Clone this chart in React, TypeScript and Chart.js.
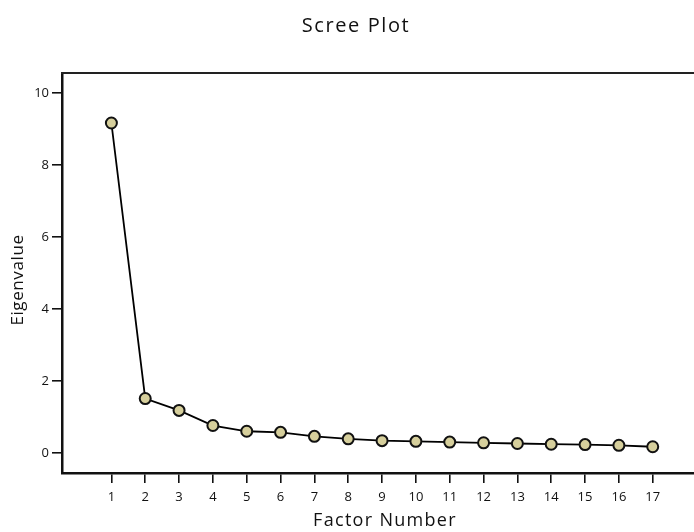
import React, { useEffect, useRef } from "react";
import { Chart, registerables } from "chart.js";

Chart.register(...registerables);

const factors = [1, 2, 3, 4, 5, 6, 7, 8, 9, 10, 11, 12, 13, 14, 15, 16, 17];
const eigenvalues = [9.17, 1.51, 1.18, 0.76, 0.6, 0.57, 0.46, 0.39, 0.34, 0.32, 0.3, 0.28, 0.26, 0.24, 0.23, 0.21, 0.17];
const xTickValues = [1, 2, 3, 4, 5, 6, 7, 8, 9, 10, 11, 12, 13, 14, 15, 16, 17];
const yTickValues = [0, 2, 4, 6, 8, 10];
const chartTitle = "Scree Plot";
const xTitle = "Factor Number";
const yTitle = "Eigenvalue";

const FONT = "'Open Sans', 'Noto Sans', sans-serif";

const framePlugin = {
  id: "frameAndTitles",
  afterDraw(chart: any) {
    const { ctx, chartArea } = chart;
    ctx.save();
    ctx.strokeStyle = "#222";
    ctx.lineWidth = 2;
    ctx.beginPath();
    ctx.moveTo(chartArea.left - 1, chartArea.top);
    ctx.lineTo(chartArea.right, chartArea.top);
    ctx.stroke();

    ctx.fillStyle = "#111";
    ctx.textAlign = "center";
    ctx.textBaseline = "middle";
    ctx.font = `20px ${FONT}`;
    (ctx as any).letterSpacing = "1.6px";
    ctx.fillText(chartTitle, 356, 26);
    ctx.font = `18px ${FONT}`;
    (ctx as any).letterSpacing = "1.3px";
    ctx.fillText(xTitle, 385, 521);
    ctx.font = `17px ${FONT}`;
    (ctx as any).letterSpacing = "0.6px";
    ctx.translate(18, 280);
    ctx.rotate(-Math.PI / 2);
    ctx.fillText(yTitle, 0, 0);
    ctx.restore();
  },
};

export default function App() {
  const ref = useRef<HTMLCanvasElement | null>(null);
  useEffect(() => {
    if (!ref.current) return;
    const chart = new Chart(ref.current, {
      type: "line",
      data: {
        datasets: [
          {
            data: factors.map((f, i) => ({ x: f, y: eigenvalues[i] })),
            borderColor: "#000",
            borderWidth: 1.8,
            backgroundColor: "#d6cf9c",
            pointBackgroundColor: "#d6cf9c",
            pointBorderColor: "#111",
            pointBorderWidth: 2,
            pointRadius: 5.5,
            tension: 0,
          },
        ],
      },
      options: {
        animation: false,
        responsive: false,
        devicePixelRatio: 1,
        layout: { autoPadding: false, padding: { top: 73, left: 0, right: 0, bottom: 0 } },
        plugins: {
          legend: { display: false },
          title: { display: false },
          tooltip: { enabled: false },
        },
        scales: {
          x: {
            type: "linear",
            min: -0.46,
            max: 18.22,
            afterBuildTicks: (scale: any) => {
              scale.ticks = xTickValues.map((v) => ({ value: v }));
            },
            afterFit: (scale: any) => {
              scale.height = 59;
            },
            grid: {
              drawOnChartArea: false,
              drawTicks: true,
              tickLength: 10,
              tickColor: "#111",
              lineWidth: 1.6,
            },
            border: { display: true, color: "#111", width: 2.5 },
            ticks: {
              color: "#111",
              font: { family: FONT, size: 13 },
              padding: 6,
              maxRotation: 0,
              autoSkip: false,
              callback: (v: any) => String(v),
            },
          },
          y: {
            type: "linear",
            min: -0.56,
            max: 10.56,
            afterBuildTicks: (scale: any) => {
              scale.ticks = yTickValues.map((v) => ({ value: v }));
            },
            afterFit: (scale: any) => {
              scale.width = 62;
            },
            grid: {
              drawOnChartArea: false,
              drawTicks: true,
              tickLength: 10,
              tickColor: "#111",
              lineWidth: 1.6,
            },
            border: { display: true, color: "#111", width: 2.5 },
            ticks: {
              color: "#111",
              font: { family: FONT, size: 13 },
              padding: 3,
              autoSkip: false,
              callback: (v: any) => String(v),
            },
          },
        },
      },
      plugins: [framePlugin],
    });
    return () => chart.destroy();
  }, []);
  return (
    <canvas
      ref={ref}
      width={694}
      height={532}
      style={{ position: "fixed", left: 0, top: 0, width: 694, height: 532 }}
    />
  );
}
